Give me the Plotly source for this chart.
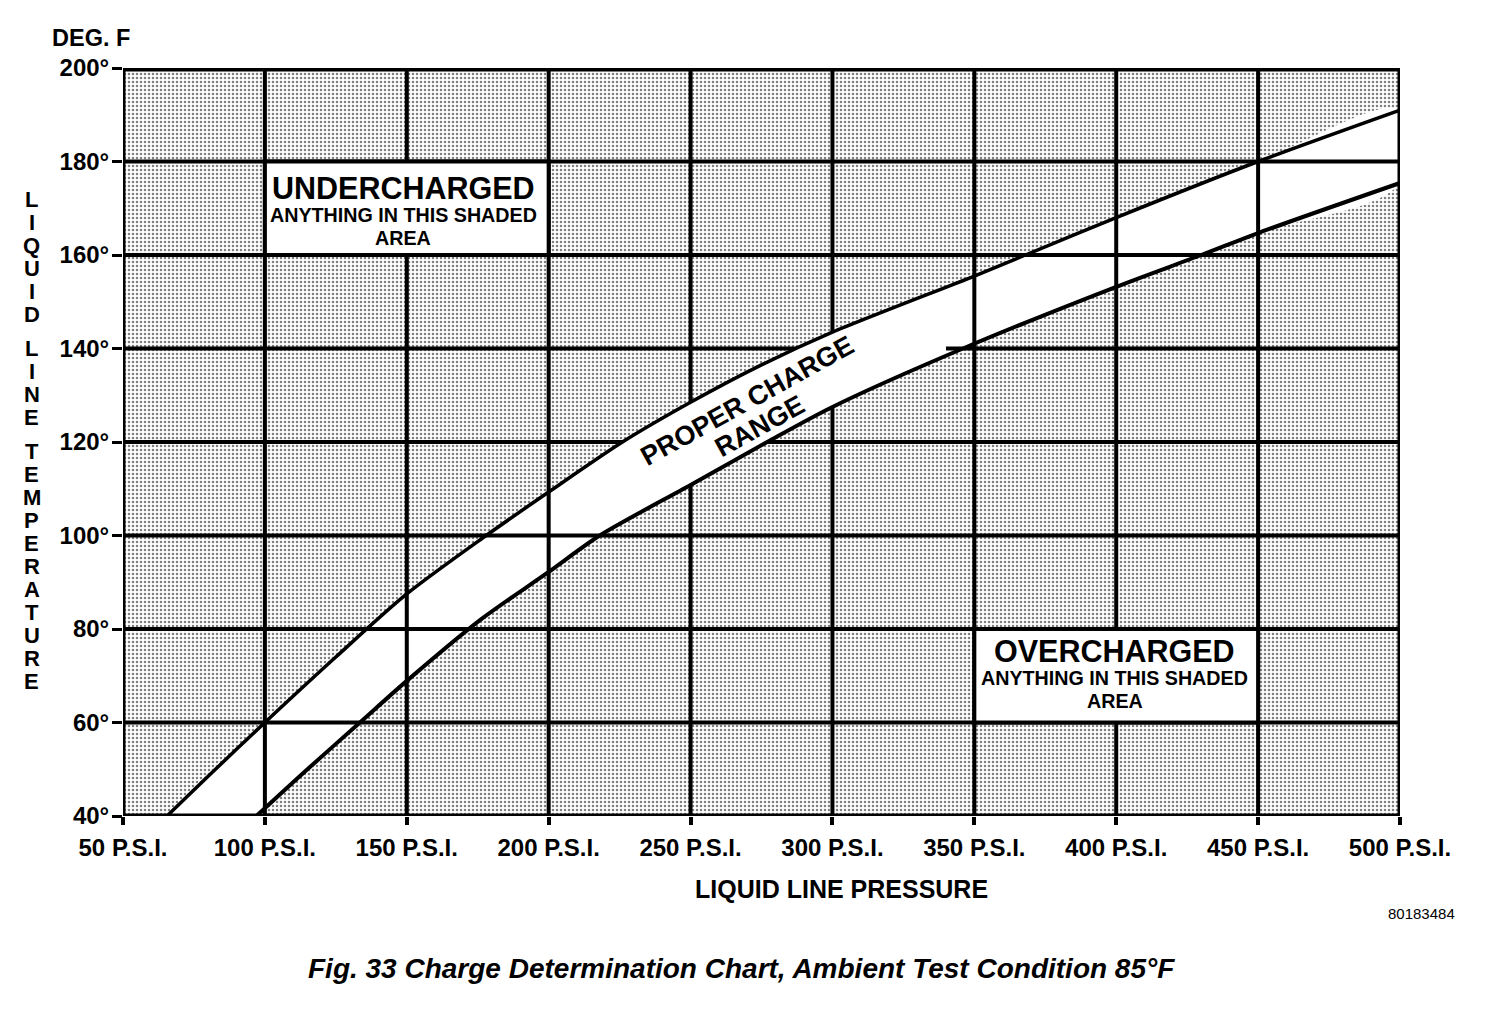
import numpy as np
import plotly.graph_objects as go

# Liquid line pressure (psi) vs liquid line temperature (deg F)
upper_psi = [65.5, 80, 100, 125, 150, 178, 200, 226, 250, 275, 300, 350, 368, 400, 450, 500]
upper_temp = [40, 48.5, 60, 74, 87.5, 100, 109.3, 120, 128.5, 136.5, 143.5, 155.5, 160, 168, 180, 191]

lower_psi = [97, 115, 133.5, 150, 175.8, 200, 218, 250, 277, 300, 346, 400, 430, 450, 500]
lower_temp = [40, 50, 60, 68.9, 81.9, 92.2, 100, 110.8, 120, 127.5, 140, 153.2, 160, 164.7, 175.4]

x_ticks = [50, 100, 150, 200, 250, 300, 350, 400, 450, 500]
x_labels = [f"{v} P.S.I." for v in x_ticks]
y_ticks = [40, 60, 80, 100, 120, 140, 160, 180, 200]
y_labels = [f"{v}°" for v in y_ticks]

FONT = "Liberation Sans"
BOLD = dict(family=FONT, color="black", weight="bold")

fig = go.Figure()

# stippled background over the whole plot area
fig.add_trace(go.Scatter(
    x=[50, 500, 500, 50, 50], y=[40, 40, 200, 200, 40],
    mode="lines", line=dict(width=0), fill="toself",
    fillcolor="white",
    fillpattern=dict(shape=".", fgcolor="black", bgcolor="white", size=4, solidity=0.32),
    hoverinfo="skip",
))

# white proper charge band
fig.add_trace(go.Scatter(
    x=upper_psi + lower_psi[::-1], y=upper_temp + lower_temp[::-1],
    mode="lines", line=dict(width=0, shape="spline"), fill="toself", fillcolor="white",
    hoverinfo="skip",
))

# grid lines (drawn over the band)
gx, gy = [], []
for v in x_ticks[1:-1]:
    gx += [v, v, None]
    gy += [40, 200, None]
for v in y_ticks[1:-1]:
    gx += [50, 500, None]
    gy += [v, v, None]
fig.add_trace(go.Scatter(x=gx, y=gy, mode="lines", line=dict(color="black", width=4),
                         hoverinfo="skip"))

# the band stays clear of grid lines behind the "PROPER CHARGE RANGE" text
lo, hi = 222, 340
up = np.array(upper_psi)
lw = np.array(lower_psi)
cx = [lo] + list(up[(up > lo) & (up < hi)]) + [hi, hi] + list(lw[(lw > lo) & (lw < hi)][::-1]) + [lo, lo]
cy = ([np.interp(lo, upper_psi, upper_temp)]
      + list(np.array(upper_temp)[(up > lo) & (up < hi)])
      + [np.interp(hi, upper_psi, upper_temp), np.interp(hi, lower_psi, lower_temp)]
      + list(np.array(lower_temp)[(lw > lo) & (lw < hi)][::-1])
      + [np.interp(lo, lower_psi, lower_temp), np.interp(lo, upper_psi, upper_temp)])
fig.add_trace(go.Scatter(x=cx, y=cy, mode="lines", line=dict(width=0), fill="toself",
                         fillcolor="white", hoverinfo="skip"))

# band edges
fig.add_trace(go.Scatter(x=upper_psi, y=upper_temp, mode="lines",
                         line=dict(color="black", width=3.5, shape="spline", smoothing=0.8),
                         hoverinfo="skip"))
fig.add_trace(go.Scatter(x=lower_psi, y=lower_temp, mode="lines",
                         line=dict(color="black", width=4, shape="spline", smoothing=0.8),
                         hoverinfo="skip"))

# label boxes covering grid cells
fig.add_shape(type="rect", x0=100, x1=200, y0=160, y1=180, xref="x", yref="y",
              fillcolor="white", line=dict(color="black", width=4), layer="above")
fig.add_shape(type="rect", x0=350, x1=450, y0=60, y1=80, xref="x", yref="y",
              fillcolor="white", line=dict(color="black", width=4), layer="above")

# frame (top edge a little heavier, as in the print)
fig.add_shape(type="rect", x0=50, x1=500, y0=40, y1=200, xref="x", yref="y",
              line=dict(color="black", width=5), layer="above")
fig.add_shape(type="line", x0=50, x1=500, y0=200, y1=200, xref="x", yref="y",
              line=dict(color="black", width=7), layer="above")


def label(x, y, text, size, **kw):
    fig.add_annotation(x=x, y=y, xref="x", yref="y", text=text, showarrow=False,
                       xanchor="center", yanchor="middle", font=dict(size=size, **BOLD), **kw)


label(148.7, 174.3, "UNDERCHARGED", 30.5)
label(148.7, 168.6, "ANYTHING IN THIS SHADED", 19.7)
label(148.7, 163.6, "AREA", 19.7)
label(399.5, 75.3, "OVERCHARGED", 30.5)
label(399.5, 69.5, "ANYTHING IN THIS SHADED", 19.7)
label(399.5, 64.6, "AREA", 19.7)
label(269.9, 128.8, "PROPER CHARGE", 27, textangle=-29)
label(274.5, 123.4, "RANGE", 27, textangle=-29)

# stacked vertical axis title
words = ["LIQUID", "LINE", "TEMPERATURE"]
pos = 171.8
step = 23 / 4.675
for w in words:
    for ch in w:
        fig.add_annotation(x=-0.0713, y=pos, xref="paper", yref="y", text=ch,
                           showarrow=False, xanchor="center", yanchor="middle",
                           font=dict(size=22, **BOLD))
        pos -= step
    pos -= 11 / 4.675


def paper_text(x, y, text, font):
    fig.add_annotation(x=x, y=y, xref="paper", yref="paper", text=text, showarrow=False,
                       xanchor="center", yanchor="middle", font=font)


paper_text(-0.025, 1.04, "DEG. F", dict(size=23.5, **BOLD))
paper_text(0.563, -0.0976, "LIQUID LINE PRESSURE", dict(size=25, **BOLD))
paper_text(1.017, -0.1297, "80183484", dict(size=15, family=FONT, color="black"))
paper_text(0.484, -0.2045, "Fig. 33 Charge Determination Chart, Ambient Test Condition 85°F",
           dict(size=28, family=FONT, color="black", weight="bold", style="italic"))

fig.update_xaxes(range=[50, 500], tickvals=x_ticks, ticktext=x_labels,
                 showgrid=False, zeroline=False, showline=False,
                 ticks="outside", ticklen=8, tickwidth=4, tickcolor="black",
                 ticklabelstandoff=2,
                 tickfont=dict(size=24, **BOLD))
fig.update_yaxes(range=[40, 200], tickvals=y_ticks, ticktext=y_labels,
                 showgrid=False, zeroline=False, showline=False,
                 ticks="outside", ticklen=10, tickwidth=3, tickcolor="black",
                 ticklabelstandoff=-2,
                 tickfont=dict(size=24, **BOLD))

fig.update_layout(
    width=1504, height=1012,
    margin=dict(l=115, r=112, t=60, b=204),
    paper_bgcolor="white", plot_bgcolor="white",
    showlegend=False,
)

fig.write_html("out.html")
